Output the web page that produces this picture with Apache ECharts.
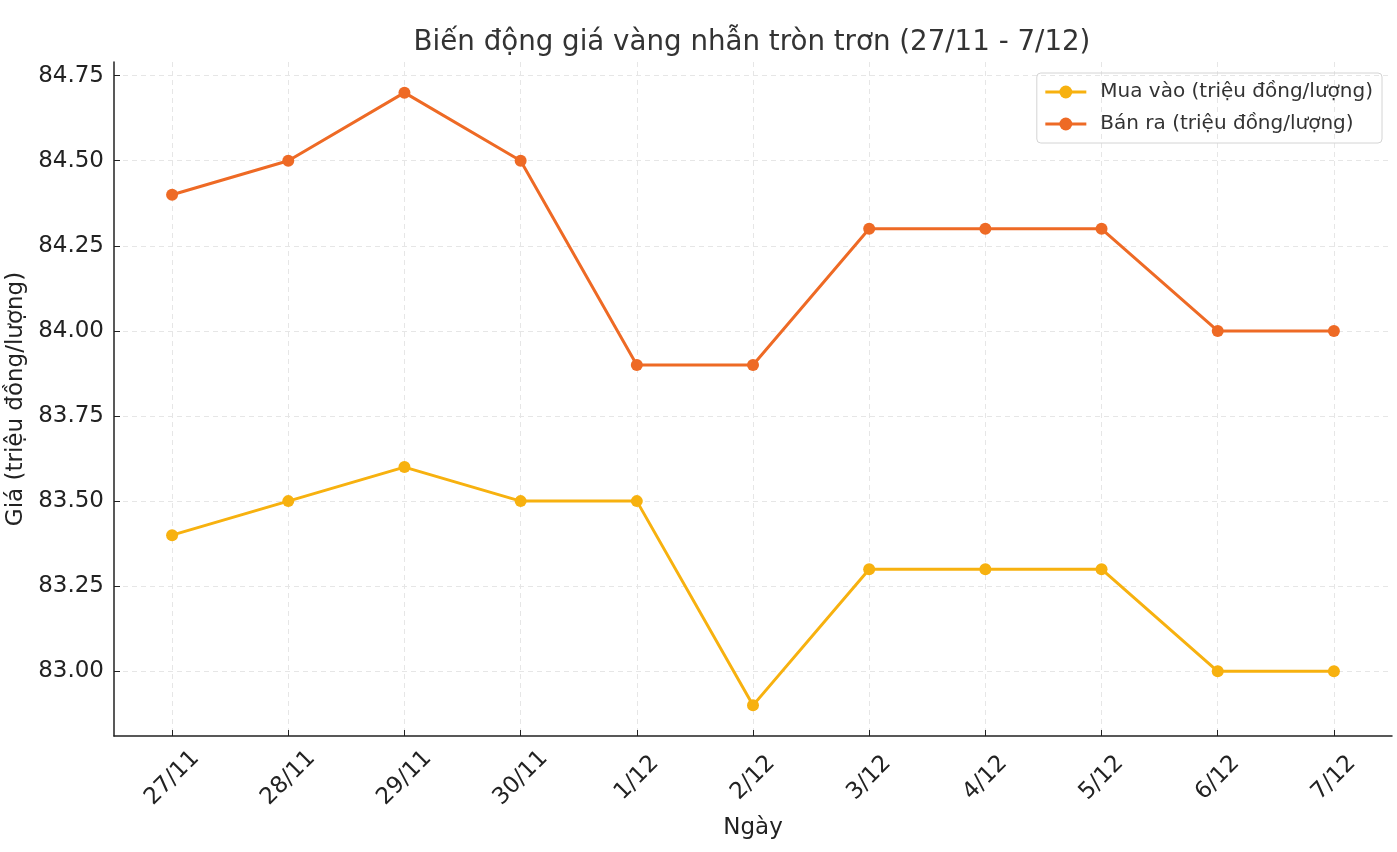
<!DOCTYPE html>
<html><head><meta charset="utf-8">
<script src="https://cdn.jsdelivr.net/npm/echarts@6/dist/echarts.min.js"></script>
<style>html,body{margin:0;padding:0;background:#fff}#c{width:1397px;height:852px}</style>
</head><body><div id="c"></div>
<script>
const categories = ['27/11','28/11','29/11','30/11','1/12','2/12','3/12','4/12','5/12','6/12','7/12'];
const buyValues = [83.4, 83.5, 83.6, 83.5, 83.5, 82.9, 83.3, 83.3, 83.3, 83.0, 83.0];
const sellValues = [84.4, 84.5, 84.7, 84.5, 83.9, 83.9, 84.3, 84.3, 84.3, 84.0, 84.0];
const yTicks = [83.00, 83.25, 83.50, 83.75, 84.00, 84.25, 84.50, 84.75];
const seriesNames = ['Mua vào (triệu đồng/lượng)', 'Bán ra (triệu đồng/lượng)'];
const titleText = 'Biến động giá vàng nhẫn tròn trơn (27/11 - 7/12)';
const xName = 'Ngày';
const yName = 'Giá (triệu đồng/lượng)';

const font = 'DejaVu Sans';
const xIdx = categories.map((c,i)=>i);
const chart = echarts.init(document.getElementById('c'), null, {renderer:'canvas'});
const gridLine = {show:true, lineStyle:{color:'#e6e6e6', type:[5,4], width:1}};
chart.setOption({
  animation:false,
  textStyle:{fontFamily:font},
  title:{text:titleText, left:747, textAlign:'center', top:24, textStyle:{fontFamily:font, fontSize:27.7, fontWeight:'normal', color:'#333'}},
  legend:{
    orient:'vertical', right:15, top:73, padding:[9,9,9,7], itemGap:12,
    borderColor:'#d4d4d4', borderWidth:1, borderRadius:4,
    itemWidth:41, itemHeight:16,
    lineStyle:{width:3},
    textStyle:{fontFamily:font, fontSize:20, color:'#333', padding:[0,0,0,9]},
    data: seriesNames
  },
  grid:{left:114, right:5, top:62, bottom:116, outerBoundsMode:'none', containLabel:false},
  xAxis:{
    type:'value', min:-0.5, max:categories.length-0.5,
    name:xName, nameLocation:'middle', nameGap:81,
    nameTextStyle:{fontFamily:font, fontSize:23, color:'#222'},
    axisLine:{show:true, onZero:false, lineStyle:{color:'#222', width:1.5}},
    axisTick:{show:true, inside:true, length:6, customValues:xIdx, lineStyle:{color:'#222'}},
    axisLabel:{customValues:xIdx, rotate:45, align:'center', verticalAlign:'middle', margin:42,
      fontFamily:font, fontSize:23, color:'#222', formatter:v=>categories[Math.round(v)]},
    splitLine:gridLine
  },
  yAxis:{
    type:'value', min:82.81, max:84.79,
    name:yName, nameLocation:'middle', nameGap:76,
    nameTextStyle:{fontFamily:font, fontSize:23, color:'#222'},
    axisLine:{show:true, onZero:false, lineStyle:{color:'#222', width:1.5}},
    axisTick:{show:true, inside:true, length:6, customValues:yTicks, lineStyle:{color:'#222'}},
    axisLabel:{customValues:yTicks, margin:10, fontFamily:font, fontSize:23, color:'#222', formatter:v=>v.toFixed(2)},
    splitLine:gridLine
  },
  series:[
    {name:seriesNames[0], type:'line', data:xIdx.map(i=>[i,buyValues[i]]), symbol:'circle', symbolSize:12,
      itemStyle:{color:'#F7B10F'}, lineStyle:{color:'#F7B10F', width:3}},
    {name:seriesNames[1], type:'line', data:xIdx.map(i=>[i,sellValues[i]]), symbol:'circle', symbolSize:12,
      itemStyle:{color:'#EE6A25'}, lineStyle:{color:'#EE6A25', width:3}}
  ]
});
</script></body></html>
